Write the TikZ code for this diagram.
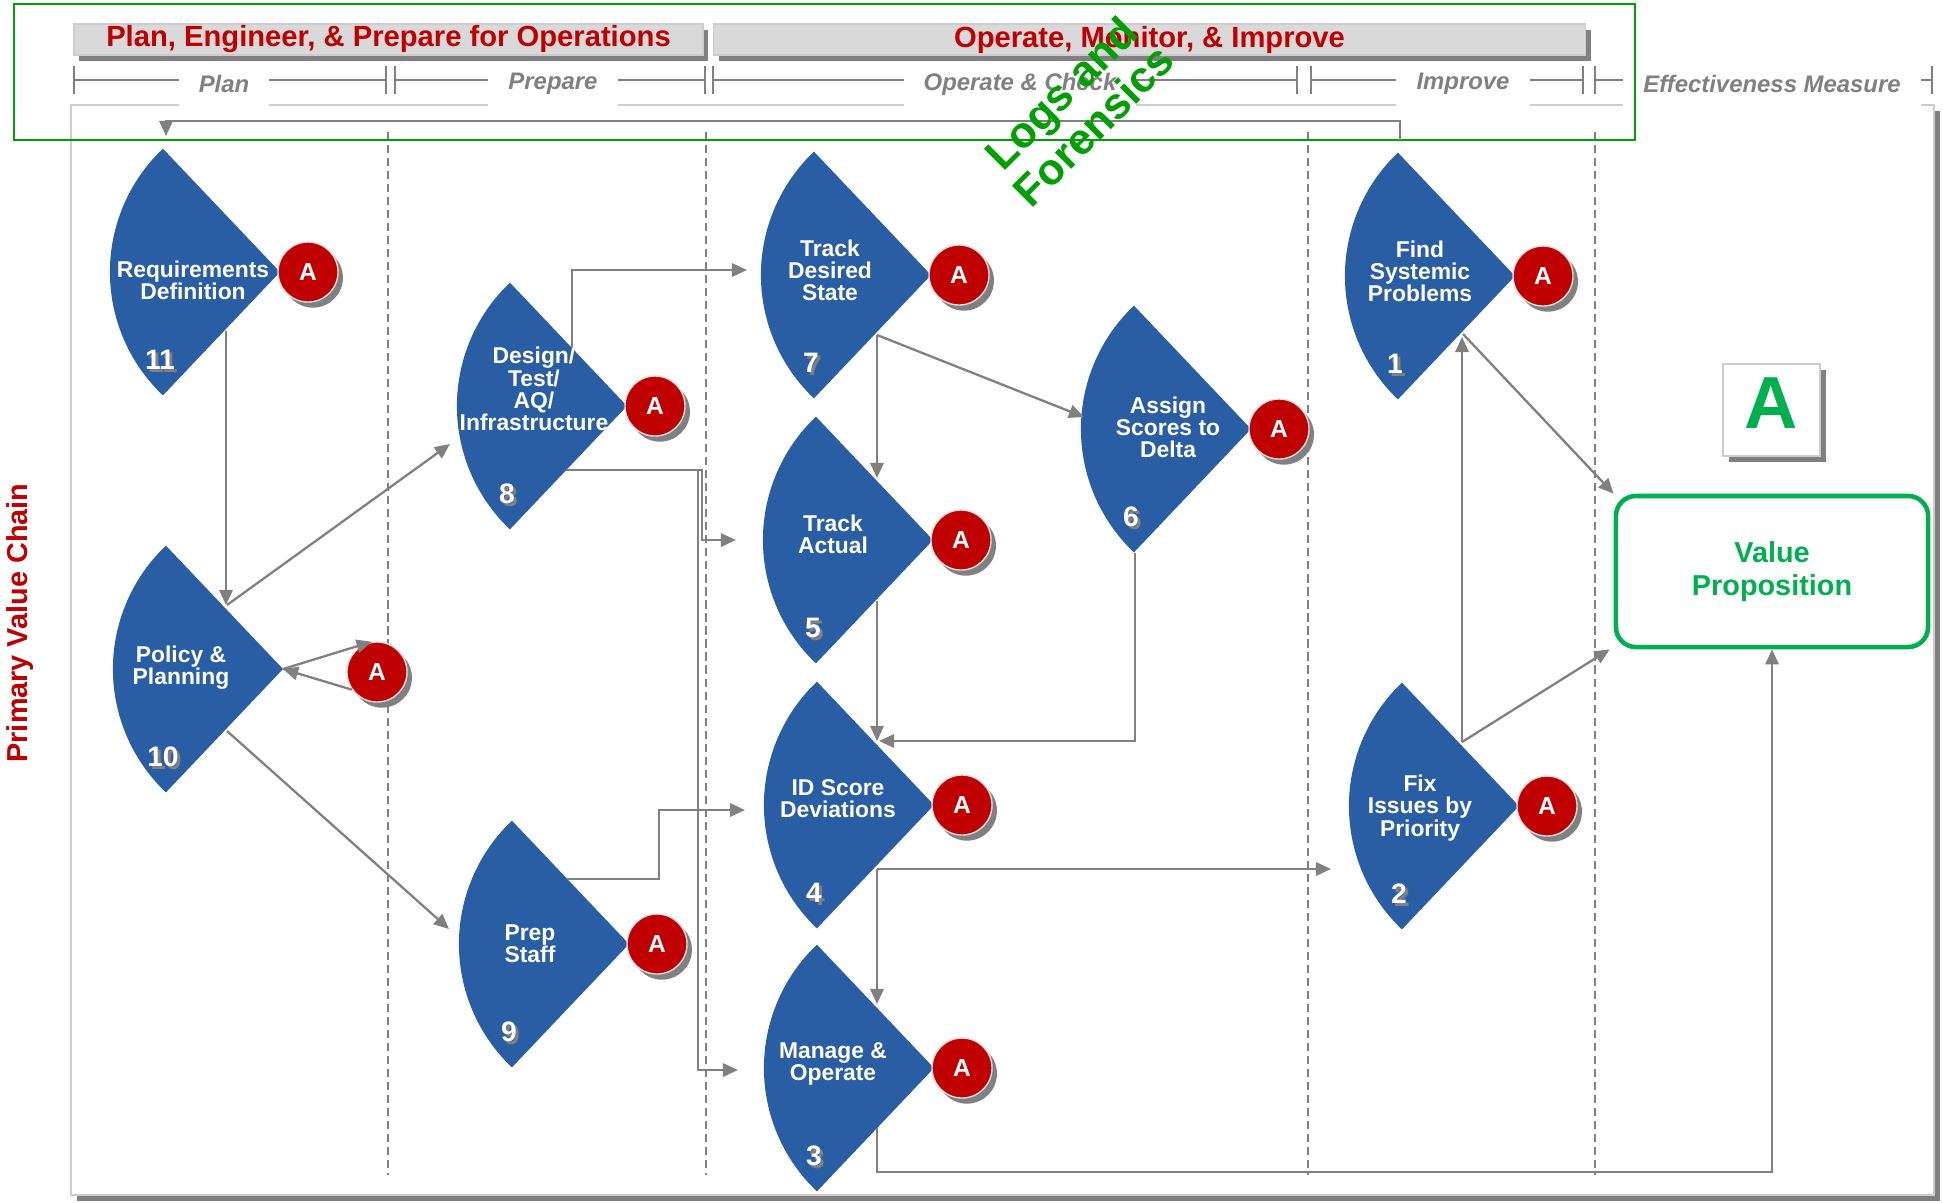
\documentclass[tikz,border=0pt]{standalone}
\usepackage{fontspec}
\setmainfont{Liberation Sans}
\usepackage{tikz}
\usetikzlibrary{arrows.meta,calc,shadows}
\definecolor{fanblue}{RGB}{41,94,164}
\definecolor{ared}{RGB}{192,0,0}
\definecolor{hdrgray}{RGB}{217,217,217}
\definecolor{shadegray}{RGB}{128,128,128}
\definecolor{linegray}{RGB}{128,128,128}
\definecolor{panelgray}{RGB}{205,205,205}
\definecolor{vpgreen}{RGB}{0,176,80}
\definecolor{logsgreen}{RGB}{0,160,0}

\tikzset{
  conn/.style={draw=linegray, line width=0.65pt, -{Triangle[length=4.3pt,width=3.8pt]}},
  rng/.style={draw=linegray, line width=0.5pt, {Bar[width=8pt]}-{Bar[width=8pt]}},
  sepline/.style={draw=linegray, line width=0.45pt, dash pattern=on 2.3pt off 1.4pt},
  sublbl/.style={fill=white, text=linegray, inner xsep=5.7pt, minimum height=0.46cm,
    font=\fontsize{6.8}{6.8}\selectfont\bfseries\itshape},
  hdrbar/.style={fill=hdrgray, draw=panelgray, line width=0.4pt, minimum height=0.31cm,
    inner sep=0pt, text=ared, font=\fontsize{8.3}{8.3}\selectfont\bfseries,
    general shadow={fill=shadegray, shadow xshift=1.5pt, shadow yshift=-1.8pt}},
  fantext/.style={text=white, align=center, inner sep=0pt,
    font=\fontsize{6.5}{6.3}\selectfont\bfseries},
  fannum/.style={text=white, inner sep=0pt, font=\fontsize{8}{8}\selectfont\bfseries},
  acirc/.style={circle, fill=ared, draw=white!75!gray, line width=0.4pt, minimum size=0.6cm,
    inner sep=0pt, text=white, font=\fontsize{7}{7}\selectfont\bfseries,
    general shadow={fill=shadegray, shadow xshift=1.4pt, shadow yshift=-1.6pt}},
  vpbox/.style={draw=vpgreen, line width=1.3pt, rounded corners=0.2cm, minimum width=3.12cm,
    minimum height=1.51cm, text=vpgreen, align=center,
    font=\fontsize{8.2}{9.2}\selectfont\bfseries},
  abox/.style={fill=white, draw=panelgray, line width=0.5pt, minimum width=0.97cm,
    minimum height=0.92cm, inner sep=0pt, text depth=0.14cm, text=vpgreen,
    font=\fontsize{21}{21}\selectfont\bfseries,
    general shadow={fill=shadegray, shadow xshift=1.7pt, shadow yshift=-1.7pt}},
  logs/.style={text=logsgreen, rotate=45, align=center,
    font=\fontsize{12.4}{13}\selectfont\bfseries}
}

\newcommand{\fanshape}[4]{%
  \fill[fanblue] (#1) -- ++(133.5:1.7cm) arc[start angle=133.5, end angle=226.5, radius=1.7cm] -- cycle;
  \node[fantext] (#1-t) at ($(#1)+(#4)$) {#2};
  \node[fannum, text=shadegray] at ($(#1)+(-117,91)$) {#3};
  \node[fannum] (#1-n) at ($(#1)+(-120,88)$) {#3};
}

\begin{document}
\begin{tikzpicture}[x=0.01cm, y=-0.01cm]
\useasboundingbox (0,0) rectangle (1943,1202);

\fill[shadegray] (77,111) rectangle (1940,1201);
\filldraw[fill=white, draw=panelgray, line width=0.5pt] (71,105) rectangle (1934,1195);

\draw[rng] (73,80) -- (387,80);
\draw[rng] (394,80) -- (706,80);
\draw[rng] (712,80) -- (1298,80);
\draw[rng] (1310,80) -- (1584,80);
\draw[rng] (1594,80) -- (1933,80);
\node[sublbl] (plan) at (224,84) {Plan};
\node[sublbl] (prepare) at (553,84) {Prepare};
\node[sublbl] (opcheck) at (1020,84) {Operate \& Check};
\node[sublbl] (improve) at (1463,84) {Improve};
\node[sublbl] (effm) at (1772,84) {Effectiveness Measure};

\node[hdrbar, minimum width=6.29cm] (peb) at (388.5,39.5) {Plan, Engineer, \& Prepare for Operations};
\node[hdrbar, minimum width=8.71cm] (omb) at (1149.5,39.5) {Operate, Monitor, \& Improve};

\foreach \xx in {388,706,1308,1595}
  \draw[sepline] (\xx,132) -- (\xx,1175);

\draw[logsgreen, line width=0.6pt] (14,4) rectangle (1635,140);

\node[rotate=90, text=ared, font=\fontsize{8.2}{8.2}\selectfont\bfseries] (pvc) at (20,623) {Primary Value Chain};

\coordinate (req) at (280,272);
\coordinate (pol) at (283,669);
\coordinate (des) at (627,406);
\coordinate (prep) at (629,944);
\coordinate (tds) at (931,275);
\coordinate (tact) at (933,540);
\coordinate (idsc) at (934,805);
\coordinate (mgo) at (934,1068);
\coordinate (asg) at (1251,429);
\coordinate (fsp) at (1515,276);
\coordinate (fix) at (1519,806);

\fanshape{req}{Requirements\\Definition}{11}{-87,8}
\fanshape{pol}{Policy \&\\Planning}{10}{-102,-1}
\fanshape{des}{Design/\\Test/\\AQ/\\Infrastructure}{8}{-93,-17}
\fanshape{prep}{Prep\\Staff}{9}{-99,0}
\fanshape{tds}{Track\\Desired\\State}{7}{-101,-5}
\fanshape{tact}{Track\\Actual}{5}{-100,-6}
\fanshape{idsc}{ID Score\\Deviations}{4}{-96,-6}
\fanshape{mgo}{Manage \&\\Operate}{3}{-101,-4}
\fanshape{asg}{Assign\\Scores to\\Delta}{6}{-83,-2}
\fanshape{fsp}{Find\\Systemic\\Problems}{1}{-95,-5}
\fanshape{fix}{Fix\\Issues by\\Priority}{2}{-99,2}

\foreach \s in {req,des,prep,tds,tact,idsc,mgo,asg,fsp,fix}
  \node[acirc] (\s-a) at ($(\s)+(28,0)$) {A};
\node[acirc] (pol-a) at (377,672) {A};

\node[vpbox] (vp) at (1772,571.5) {Value\\Proposition};
\node[abox] (bigA) at (1771.5,410) {A};

\draw[conn] ($(fsp)+(-115,-136)$) |- ($(req)+(-114,-151)$) -- ($(req)+(-114,-136)$);
\draw[conn] ($(req)+(-54,59)$) -- ($(pol)+(-57,-64)$);
\draw[conn] ($(pol)+(-56,-64)$) -- ($(des)+(-177,38)$);
\draw[conn] ($(pol)+(-56,62)$) -- ($(prep)+(-180,-15)$);
\draw[conn] (pol) -- (pol-a.100);
\draw[conn] (pol-a.215) -- (pol);
\draw[conn] ($(des)+(-55,-58)$) |- ($(tds)+(-184,-5)$);
\draw[conn] ($(des)+(-61,64)$) -| ($(tact)+(-231,0)$) -- ($(tact)+(-197,0)$);
\draw[conn] ($(des)+(-61,64)$) -| ($(mgo)+(-236,2)$) -- ($(mgo)+(-196,2)$);
\draw[conn] ($(prep)+(-62,-65)$) -- ($(prep)+(30,-65)$) |- ($(idsc)+(-189,5)$);
\draw[conn] ($(tds)+(-54,60)$) -- ($(tact)+(-56,-62)$);
\draw[conn] ($(tds)+(-54,60)$) -- ($(asg)+(-167,-12)$);
\draw[conn] ($(tact)+(-56,61)$) -- ($(idsc)+(-57,-64)$);
\draw[conn] ($(asg)+(-116,124)$) |- ($(idsc)+(-55,-64)$);
\draw[conn] ($(idsc)+(-57,64)$) -- ($(mgo)+(-57,-64)$);
\draw[conn] ($(idsc)+(-57,64)$) -- ($(fix)+(-188,63)$);
\draw[conn] ($(fix)+(-57,-64)$) -- ($(fsp)+(-53,61)$);
\draw[conn] ($(fix)+(-57,-64)$) -- ($(vp.south west)+(-4,0)$);
\draw[conn] ($(fsp)+(-52,58)$) -- (vp.north west);
\draw[conn] ($(mgo)+(-57,60)$) -- ($(mgo)+(-57,104)$) -| (vp.south);

\node[logs] (logs) at (1077,109) {Logs and\\Forensics};
\end{tikzpicture}
\end{document}
